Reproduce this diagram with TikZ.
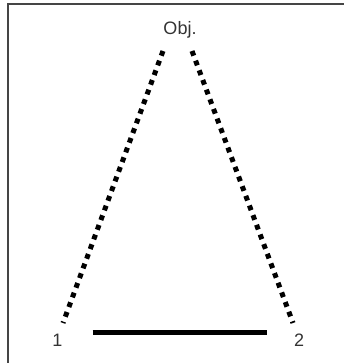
\documentclass[tikz,border=0pt]{standalone}
\usepackage{fontspec}
\setmainfont{Liberation Sans}
\usepackage{xcolor}
\usepackage{tikz}
\definecolor{frameGray}{HTML}{454545}
\definecolor{textGray}{HTML}{333333}

\begin{document}
\begin{tikzpicture}[x=1pt, y=-1pt, font=\fontsize{18}{21}\selectfont, text=textGray]
            \useasboundingbox (0,0) rectangle (344,363);
            \draw[frameGray, line width=2pt] (8,363) -- (8,4) -- (344,4);
            \node (obj) at (180,30) {Obj.};
            \node (one) at (57.5,340) {1};
            \node (two) at (299,340) {2};
            \coordinate (objL) at (163,51);
            \coordinate (objR) at (192,51);
            \coordinate (endL) at (63,323);
            \coordinate (endR) at (293,323);
            \coordinate (baseL) at (92.5,332.5);
            \coordinate (baseR) at (266.5,332.5);
            \draw[line width=5pt, dash pattern=on 5pt off 5.3pt] (objL) -- (endL);
            \draw[line width=5pt, dash pattern=on 5pt off 5.3pt] (objR) -- (endR);
            \draw[line width=5pt] (baseL) -- (baseR);
        \end{tikzpicture}
\end{document}
